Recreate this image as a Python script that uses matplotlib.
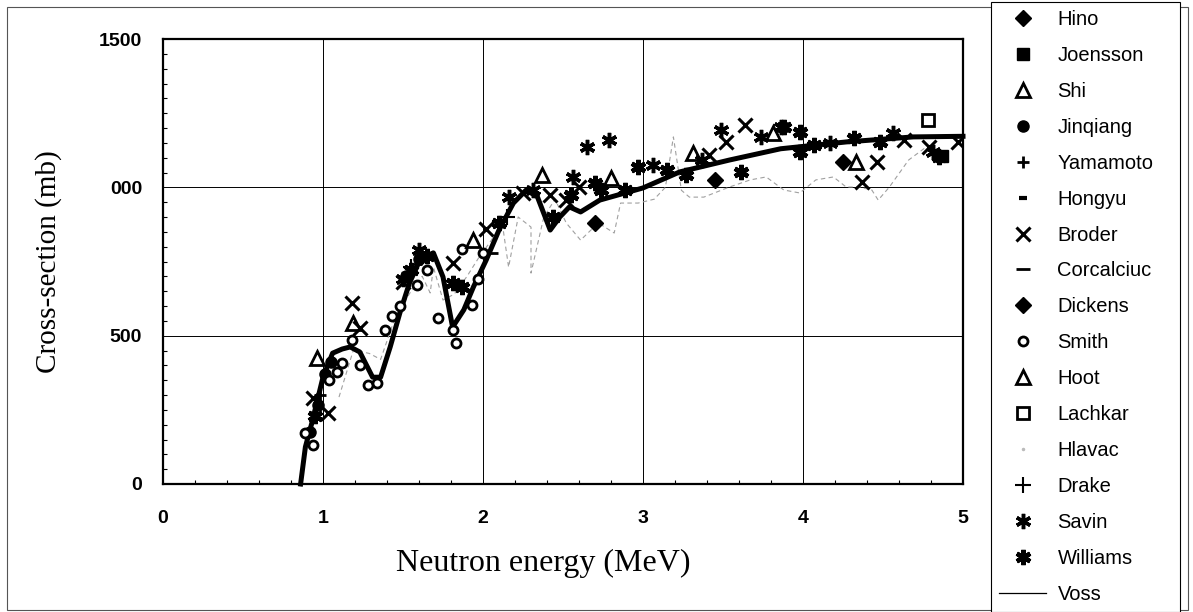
import matplotlib
matplotlib.use("Agg")
import matplotlib.pyplot as plt
from matplotlib.lines import Line2D
from matplotlib.patches import Rectangle
from matplotlib.ticker import FixedLocator, MultipleLocator

# ---- data ----
voss_x = [0.86, 0.89, 0.93, 1.00, 1.06, 1.12, 1.17, 1.23, 1.31, 1.36, 1.42, 1.48, 1.54,
          1.61, 1.69, 1.75, 1.81, 1.88, 1.94, 2.02, 2.10, 2.19, 2.27, 2.34, 2.42, 2.48,
          2.54, 2.61, 2.73, 3.00, 3.23, 3.54, 3.86, 4.27, 4.69, 5.00]
voss_y = [0, 125, 205, 360, 441, 455, 462, 445, 360, 360, 462, 576, 677,
          760, 779, 698, 529, 587, 664, 755, 856, 947, 991, 968, 856, 900,
          934, 917, 957, 998, 1052, 1092, 1130, 1153, 1170, 1172]

hlavac_x = [1.10, 1.19, 1.29, 1.36, 1.45, 1.55, 1.62, 1.67, 1.69, 1.75, 1.82, 1.90,
            1.97, 2.05, 2.12, 2.16, 2.22, 2.30, 2.30, 2.38, 2.45, 2.52, 2.61, 2.72,
            2.82, 2.86, 2.97, 3.07, 3.14, 3.19, 3.24, 3.29, 3.38, 3.54, 3.67, 3.77,
            3.88, 3.98, 4.08, 4.19, 4.27, 4.35, 4.43, 4.47, 4.54, 4.66, 4.77, 4.82]
hlavac_y = [293, 452, 440, 420, 560, 650, 700, 644, 731, 620, 640, 700,
            760, 820, 880, 731, 900, 866, 711, 900, 960, 880, 822, 880,
            846, 947, 947, 960, 1000, 1170, 990, 967, 967, 1001, 1025, 1035,
            991, 981, 1025, 1035, 1001, 1001, 991, 957, 1001, 1092, 1136, 1140]

hino_x = [3.45]
hino_y = [1025]
joensson_x = [4.87]
joensson_y = [1105]
shi_x = [0.96, 1.19, 2.37, 2.80]
shi_y = [425, 543, 1042, 1032]
jinqiang_x = [0.92, 0.97, 1.01, 1.05, 1.52, 1.60]
jinqiang_y = [175, 265, 370, 410, 700, 760]
yamamoto_x = [0.98, 1.58]
yamamoto_y = [300, 740]
hongyu_x = [1.66]
hongyu_y = [770]
broder_x = [0.94, 1.03, 1.18, 1.23, 1.50, 1.81, 2.02, 2.25, 2.42, 2.52, 2.60,
            3.41, 3.52, 3.64, 4.37, 4.46, 4.63, 4.79, 4.97]
broder_y = [290, 239, 610, 526, 680, 745, 860, 980, 974, 957, 1000,
            1109, 1153, 1210, 1018, 1085, 1160, 1136, 1153]
corcalciuc_x = [2.05]
corcalciuc_y = [780]
dickens_x = [2.70, 4.25]
dickens_y = [880, 1085]
smith_x = [0.89, 0.94, 1.04, 1.09, 1.12, 1.18, 1.23, 1.28, 1.34, 1.39, 1.43, 1.48,
           1.59, 1.65, 1.72, 1.81, 1.83, 1.87, 1.93, 1.97, 2.00]
smith_y = [172, 131, 350, 378, 408, 485, 401, 334, 340, 519, 566, 600,
           671, 720, 560, 519, 475, 792, 603, 690, 780]
hoot_x = [1.94, 3.31, 3.81, 4.33]
hoot_y = [822, 1116, 1183, 1085]
lachkar_x = [4.78]
lachkar_y = [1227]
drake_x = [1.55, 2.15]
drake_y = [730, 900]
savin_x = [1.50, 1.60, 2.16, 2.31, 2.56, 2.65, 2.79, 3.06, 3.37, 3.49, 3.74, 3.86,
           4.17, 4.56, 4.81]
savin_y = [690, 789, 967, 991, 1035, 1136, 1160, 1075, 1092, 1193, 1170, 1203,
           1150, 1183, 1119]
williams_x = [0.95, 1.55, 1.65, 1.81, 1.87, 2.10, 2.44, 2.55, 2.70, 2.74, 2.89,
              2.97, 3.15, 3.27, 3.61, 3.88, 3.98, 3.98, 4.07, 4.32, 4.48, 4.85]
williams_y = [230, 720, 770, 678, 664, 880, 900, 974, 1015, 991, 991,
              1069, 1059, 1042, 1052, 1203, 1187, 1119, 1143, 1166, 1153, 1102]

W, H = 1193, 612
fig = plt.figure(figsize=(W / 100, H / 100), dpi=100)
ax = fig.add_axes([163 / W, (H - 484) / H, 800 / W, 445 / H])

sans = ["Liberation Sans", "DejaVu Sans"]
serif = ["Liberation Serif", "DejaVu Serif"]

# curves
ax.plot(hlavac_x, hlavac_y, color="#a0a0a0", lw=0.8, ls=(0, (4, 3)), zorder=2)
ax.plot(voss_x, voss_y, color="black", lw=3.6, solid_joinstyle="round", zorder=3,
        clip_on=False)

k = dict(ls="none", color="black", zorder=4)
ax.plot(hino_x, hino_y, marker="D", ms=8, **k)
ax.plot(joensson_x, joensson_y, marker="s", ms=8, **k)
ax.plot(shi_x, shi_y, marker="^", ms=10, mfc="white", mew=2, **k)
ax.plot(jinqiang_x, jinqiang_y, marker="o", ms=8, **k)
ax.plot(yamamoto_x, yamamoto_y, marker="+", ms=9, mew=2, **k)
ax.plot(hongyu_x, hongyu_y, marker="_", ms=6, mew=3, **k)
ax.plot(broder_x, broder_y, marker="x", ms=10, mew=2.2, **k)
ax.plot(corcalciuc_x, corcalciuc_y, marker="_", ms=10, mew=2, **k)
ax.plot(dickens_x, dickens_y, marker="D", ms=8, **k)
ax.plot(smith_x, smith_y, marker="o", ms=6.5, mfc="white", mew=2, **k)
ax.plot(hoot_x, hoot_y, marker="^", ms=10, mfc="white", mew=2, **k)
ax.plot(lachkar_x, lachkar_y, marker="s", ms=9, mfc="white", mew=2, **k)
ax.plot(drake_x, drake_y, marker="+", ms=12, mew=1.5, **k)
ax.plot(savin_x, savin_y, marker=(6, 2, 0), ms=11, mew=2.5, **k)
ax.plot(williams_x, williams_y, marker=(6, 2, 0), ms=11, mew=3.2, **k)

ax.set_xlim(0, 5)
ax.set_ylim(0, 1500)
ax.xaxis.set_major_locator(FixedLocator([0, 1, 2, 3, 4, 5]))
ax.yaxis.set_major_locator(FixedLocator([0, 500, 1000, 1500]))
ax.set_yticklabels(["0", "500", "000", "1500"])
ax.xaxis.set_minor_locator(MultipleLocator(0.2))
ax.yaxis.set_minor_locator(MultipleLocator(50))
ax.tick_params(which="major", length=0, pad=19, labelsize=14)
ax.tick_params(axis="y", which="major", pad=15)
ax.tick_params(which="minor", direction="in", length=3, width=0.8)
for lab in ax.get_xticklabels() + ax.get_yticklabels():
    lab.set_family(sans)
    lab.set_fontweight("bold")
for v in [1, 2, 3, 4]:
    ax.axvline(v, color="black", lw=0.7, zorder=1)
for v in [500, 1000]:
    ax.axhline(v, color="black", lw=0.7, zorder=1)
for s in ax.spines.values():
    s.set_linewidth(1.6)

ax.set_xlabel("Neutron energy (MeV)", family=serif, fontsize=23)
ax.set_ylabel("Cross-section (mb)", family=serif, fontsize=21)
ax.xaxis.set_label_coords((543 - 163) / 800, -(549 - 484) / 445)
ax.yaxis.set_label_coords((62 - 163) / 800, 0.5)

# legend
def h(**kw):
    base = dict(ls="none", color="black")
    base.update(kw)
    return Line2D([], [], **base)

handles = [
    h(marker="D", ms=8), h(marker="s", ms=8), h(marker="^", ms=10, mfc="white", mew=2),
    h(marker="o", ms=8), h(marker="+", ms=9, mew=2), h(marker="_", ms=6, mew=3),
    h(marker="x", ms=10, mew=2.2), h(marker="_", ms=10, mew=2), h(marker="D", ms=8),
    h(marker="o", ms=6.5, mfc="white", mew=2), h(marker="^", ms=10, mfc="white", mew=2),
    h(marker="s", ms=9, mfc="white", mew=2), h(marker=".", ms=3, color="#bbbbbb"),
    h(marker="+", ms=12, mew=1.5), h(marker=(6, 2, 0), ms=11, mew=2.5),
    h(marker=(6, 2, 0), ms=11, mew=3.2), Line2D([], [], color="black", lw=0.9),
]
labels = ["Hino", "Joensson", "Shi", "Jinqiang", "Yamamoto", "Hongyu", "Broder",
          "Corcalciuc", "Dickens", "Smith", "Hoot", "Lachkar", "Hlavac", "Drake",
          "Savin", "Williams", "Voss"]
leg = fig.legend(handles, labels, loc="upper left", mode="expand",
                 bbox_to_anchor=(991 / W, 2 / H, 189 / W, 608 / H),
                 prop={"family": sans, "size": 14.5},
                 frameon=True, fancybox=False, edgecolor="black", framealpha=1,
                 labelspacing=0.84, handlelength=2.35, handletextpad=0.55,
                 borderpad=0.4, borderaxespad=0)
leg.get_frame().set_linewidth(0.8)

fig.patches.append(Rectangle((7 / W, 2 / H), 1181 / W, 603 / H, transform=fig.transFigure,
                             fill=False, edgecolor="#555555", lw=0.8))

fig.savefig("out.png", dpi=100)
